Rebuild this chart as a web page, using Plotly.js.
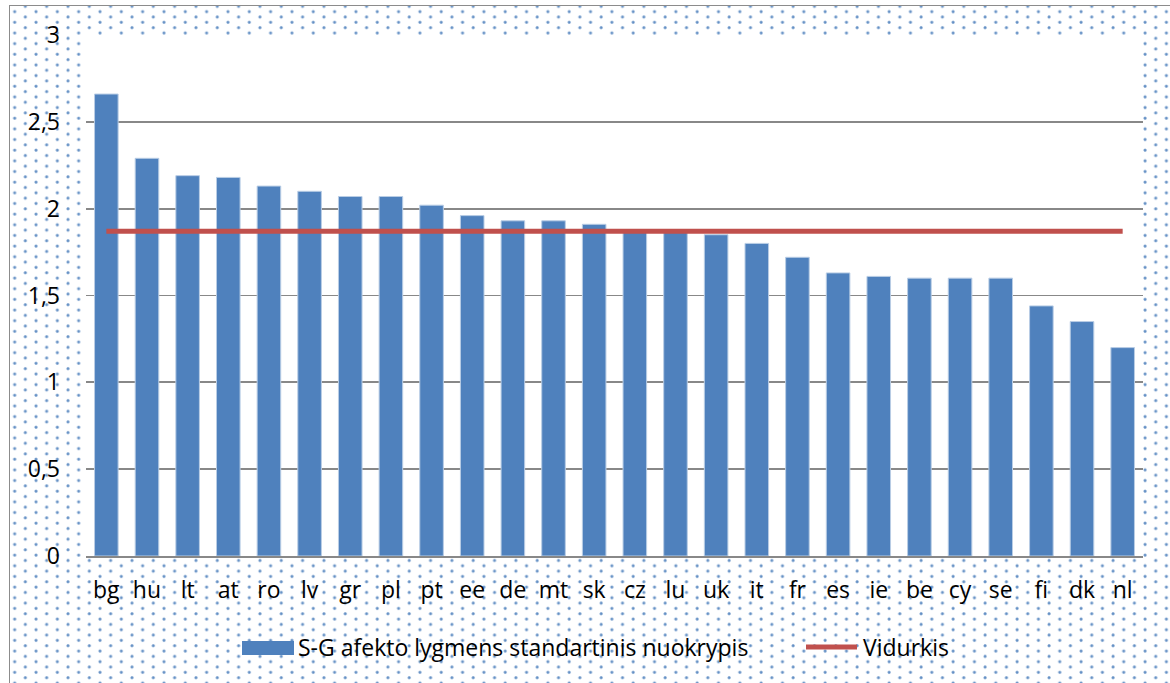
<!DOCTYPE html>
<html>
<head>
<meta charset="utf-8">
<script src="https://cdn.plot.ly/plotly-3.0.1.min.js"></script>
<style>
  html, body { margin: 0; padding: 0; background: #ffffff; }
  #frame {
    position: absolute; left: 9px; top: 5px; width: 1200px; height: 720px;
    border-left: 1.5px solid #8c8c8c; border-top: 1.5px solid #8c8c8c;
    background-image:
      radial-gradient(circle at 3px 2.67px, rgba(79,129,189,1) 0, rgba(79,129,189,0.75) 1.1px, rgba(79,129,189,0) 2px),
      radial-gradient(circle at 13.67px 8px, rgba(79,129,189,1) 0, rgba(79,129,189,0.75) 1.1px, rgba(79,129,189,0) 2px);
    background-size: 21.33px 10.67px;
    background-position: -9px -2.33px;
  }
  #chart { position: absolute; left: 0; top: 0; width: 1170px; height: 683px; }
</style>
</head>
<body>
<div id="frame"></div>
<div id="chart"></div>
<script>
const categories = ["bg","hu","lt","at","ro","lv","gr","pl","pt","ee","de","mt","sk","cz","lu","uk","it","fr","es","ie","be","cy","se","fi","dk","nl"];
const sdValues = [2.66,2.29,2.19,2.18,2.13,2.10,2.07,2.07,2.02,1.96,1.93,1.93,1.91,1.87,1.87,1.85,1.80,1.72,1.63,1.61,1.60,1.60,1.60,1.44,1.35,1.20];
const meanValues = [1.87,1.87,1.87,1.87,1.87,1.87,1.87,1.87,1.87,1.87,1.87,1.87,1.87,1.87,1.87,1.87,1.87,1.87,1.87,1.87,1.87,1.87,1.87,1.87,1.87,1.87];
const seriesNames = ["S-G afekto lygmens standartinis nuokrypis", "Vidurkis"];
const yTicks = [0, 0.5, 1, 1.5, 2, 2.5, 3];

const FONT = "Open Sans, Liberation Sans, sans-serif";
const FS = 23;
const BLUE = "#4F81BD", RED = "#C0504D";

// pixel -> paper helpers for the hand-placed legend (plot area 86..1143 x 35..556)
const M = { l: 86, r: 27, t: 35, b: 127 };
const PW = 1170 - M.l - M.r, PH = 683 - M.t - M.b;
const px = v => (v - M.l) / PW;
const py = v => (683 - M.b - v) / PH;

const traces = [
  {
    type: "bar", x: categories, y: sdValues, name: seriesNames[0],
    marker: { color: BLUE, line: { color: "#B9CDE5", width: 1 } },
    showlegend: false
  },
  {
    type: "scatter", mode: "lines", x: categories, y: meanValues, name: seriesNames[1],
    line: { color: RED, width: 5 }, showlegend: false
  }
];

const layout = {
  width: 1170, height: 683,
  margin: { l: M.l, r: M.r, t: M.t, b: M.b, pad: 0 },
  paper_bgcolor: "rgba(0,0,0,0)",
  plot_bgcolor: "#ffffff",
  separators: ", ",
  bargap: 0.42,
  font: { family: FONT, size: FS, color: "#000000" },
  xaxis: {
    type: "category", range: [-0.5, 25.5],
    showgrid: false, showline: true, linecolor: "#888888", linewidth: 1.8,
    ticks: "", ticklabelstandoff: 13,
    tickfont: { family: FONT, size: FS, color: "#000000" },
    fixedrange: true
  },
  yaxis: {
    range: [0, 3], tickvals: yTicks,
    showgrid: true, gridcolor: "#888888", gridwidth: 1.8,
    zeroline: false, showline: false, ticks: "",
    ticklabelstandoff: 25,
    tickfont: { family: FONT, size: FS, color: "#000000" },
    fixedrange: true
  },
  showlegend: false,
  shapes: [
    { type: "rect", xref: "paper", yref: "paper",
      x0: px(242), x1: px(294), y0: py(641), y1: py(655),
      fillcolor: BLUE, line: { width: 0 } },
    { type: "line", xref: "paper", yref: "paper",
      x0: px(806), x1: px(857), y0: py(647), y1: py(647),
      line: { color: RED, width: 5 } }
  ],
  annotations: [
    { xref: "paper", yref: "paper", x: px(296), y: py(647), xanchor: "left", yanchor: "middle",
      text: seriesNames[0], showarrow: false, font: { family: FONT, size: FS, color: "#000000" } },
    { xref: "paper", yref: "paper", x: px(861), y: py(647), xanchor: "left", yanchor: "middle",
      text: seriesNames[1], showarrow: false, font: { family: FONT, size: FS, color: "#000000" } }
  ]
};
Plotly.newPlot("chart", traces, layout, { displayModeBar: false, staticPlot: true });
</script>
</body>
</html>
